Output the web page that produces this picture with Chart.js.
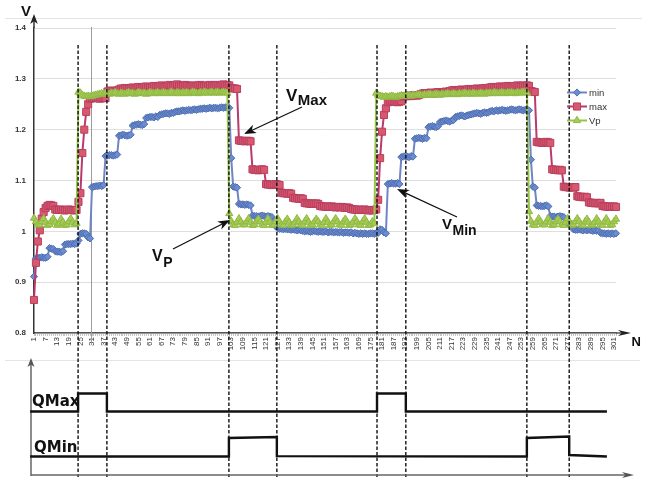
<!DOCTYPE html>
<html><head><meta charset="utf-8">
<script src="https://cdn.jsdelivr.net/npm/chart.js@4/dist/chart.umd.min.js"></script>
<style>
html,body{margin:0;padding:0;background:#fff;}
#wrap{position:relative;width:662px;height:481px;overflow:hidden;}
#c1{position:absolute;left:0;top:0;}
#c2{position:absolute;left:0;top:352px;}
</style></head><body>
<div id="wrap"><canvas id="c1" width="662" height="481" style="width:662px;height:481px"></canvas><canvas id="c2" width="662" height="129" style="width:662px;height:129px"></canvas></div>
<script>
// ---------- data ----------
const categories = Array.from({length: 302}, (_, i) => String(i + 1));
const tickLabels = [1,7,13,19,25,31,37,43,49,55,61,67,73,79,85,91,97,103,109,115,121,127,133,139,145,151,157,163,169,175,181,187,193,199,205,211,217,223,229,235,241,247,253,259,265,271,277,283,289,295,301];
const yTickLabels = ['0.8','0.9','1','1.1','1.2','1.3','1.4'];

const minV = [
0.911,0.947,0.948,0.948,0.949,0.948,0.948,0.950,0.967,0.966,
0.965,0.961,0.960,0.960,0.959,0.961,0.974,0.975,0.975,0.975,
0.976,0.975,0.976,0.982,0.995,0.996,0.996,0.995,0.988,0.986,
1.087,1.088,1.089,1.089,1.090,1.089,1.091,1.148,1.149,1.150,
1.150,1.149,1.150,1.151,1.188,1.189,1.190,1.189,1.188,1.189,
1.190,1.208,1.209,1.210,1.211,1.210,1.209,1.211,1.223,1.224,
1.225,1.225,1.224,1.226,1.225,1.229,1.230,1.231,1.232,1.232,
1.231,1.233,1.233,1.235,1.236,1.236,1.237,1.238,1.237,1.238,
1.239,1.238,1.239,1.240,1.239,1.240,1.241,1.241,1.242,1.241,
1.242,1.243,1.242,1.243,1.243,1.242,1.243,1.244,1.243,1.244,
1.244,1.243,1.144,1.088,1.087,1.086,1.054,1.053,1.053,1.052,
1.053,1.052,1.051,1.031,1.030,1.030,1.029,1.030,1.031,1.030,
1.029,1.030,1.029,1.028,1.020,1.010,1.006,1.005,1.005,1.004,
1.005,1.004,1.004,1.003,1.004,1.003,1.002,1.003,1.002,1.001,
1.000,1.001,1.000,0.999,1.000,1.001,1.000,0.999,1.000,0.999,
0.999,1.000,0.998,0.999,0.999,0.998,0.999,0.998,0.998,0.999,
0.997,0.998,0.998,0.997,0.998,0.996,0.997,0.996,0.995,0.996,
0.995,0.996,0.995,0.995,0.996,0.996,0.995,0.996,0.997,1.004,
1.003,0.998,0.996,1.093,1.094,1.095,1.094,1.094,1.095,1.093,
1.146,1.147,1.148,1.147,1.146,1.148,1.147,1.182,1.183,1.184,
1.183,1.182,1.184,1.183,1.205,1.206,1.207,1.206,1.205,1.207,
1.215,1.216,1.217,1.218,1.217,1.216,1.218,1.219,1.225,1.226,
1.227,1.228,1.227,1.226,1.228,1.229,1.230,1.231,1.232,1.233,
1.232,1.231,1.233,1.234,1.233,1.234,1.236,1.237,1.236,1.238,
1.237,1.238,1.239,1.238,1.237,1.238,1.239,1.240,1.239,1.238,
1.239,1.240,1.239,1.238,1.239,1.239,1.238,1.141,1.088,1.086,
1.051,1.050,1.050,1.049,1.050,1.051,1.049,1.030,1.029,1.029,
1.028,1.029,1.030,1.029,1.028,1.017,1.016,1.016,1.015,1.004,
1.003,1.003,1.004,1.003,1.002,1.003,1.002,1.003,1.002,1.001,
1.002,1.001,1.001,0.997,0.996,0.996,0.995,0.996,0.995,0.996,
0.995,0.996];

const maxV = [
0.865,0.938,0.980,1.002,1.025,1.038,1.046,1.050,1.052,1.051,
1.050,1.043,1.042,1.042,1.043,1.042,1.041,1.042,1.043,1.042,
1.042,1.041,1.042,1.058,1.075,1.154,1.200,1.235,1.250,1.261,
1.262,1.262,1.263,1.262,1.261,1.262,1.263,1.262,1.275,1.276,
1.277,1.276,1.275,1.277,1.279,1.281,1.280,1.282,1.281,1.280,
1.282,1.283,1.281,1.282,1.284,1.283,1.282,1.284,1.285,1.283,
1.283,1.284,1.286,1.285,1.284,1.286,1.287,1.285,1.284,1.286,
1.288,1.286,1.285,1.287,1.289,1.287,1.285,1.286,1.288,1.287,
1.286,1.285,1.287,1.286,1.285,1.287,1.288,1.286,1.285,1.287,
1.286,1.288,1.287,1.286,1.288,1.287,1.286,1.288,1.289,1.287,
1.288,1.287,1.282,1.281,1.281,1.280,1.179,1.178,1.178,1.177,
1.178,1.178,1.177,1.122,1.121,1.121,1.120,1.121,1.122,1.121,
1.093,1.092,1.092,1.091,1.092,1.093,1.092,1.091,1.076,1.075,
1.075,1.074,1.075,1.074,1.066,1.065,1.065,1.064,1.065,1.064,
1.056,1.055,1.055,1.054,1.055,1.054,1.055,1.054,1.050,1.049,
1.049,1.048,1.049,1.048,1.049,1.048,1.047,1.048,1.047,1.048,
1.047,1.046,1.047,1.046,1.044,1.043,1.043,1.042,1.043,1.042,
1.042,1.043,1.042,1.041,1.042,1.041,1.042,1.043,1.062,1.144,
1.196,1.229,1.242,1.254,1.255,1.255,1.256,1.255,1.254,1.255,
1.256,1.265,1.266,1.266,1.267,1.266,1.267,1.268,1.267,1.268,
1.270,1.271,1.272,1.271,1.272,1.273,1.272,1.271,1.273,1.274,
1.273,1.272,1.274,1.275,1.274,1.276,1.277,1.278,1.277,1.276,
1.278,1.279,1.278,1.277,1.279,1.280,1.279,1.278,1.280,1.281,
1.280,1.279,1.281,1.282,1.281,1.282,1.283,1.284,1.283,1.282,
1.284,1.285,1.284,1.283,1.285,1.286,1.285,1.284,1.285,1.286,
1.287,1.286,1.285,1.287,1.286,1.287,1.286,1.276,1.275,1.274,
1.176,1.175,1.175,1.174,1.175,1.176,1.175,1.174,1.122,1.121,
1.121,1.120,1.121,1.120,1.088,1.087,1.087,1.086,1.087,1.086,
1.087,1.069,1.068,1.068,1.067,1.068,1.067,1.057,1.056,1.056,
1.055,1.056,1.055,1.056,1.050,1.049,1.049,1.048,1.049,1.048,
1.049,1.048];

const vpV = [
1.026,1.019,1.013,1.013,1.019,1.025,1.018,1.012,1.014,1.020,
1.025,1.018,1.012,1.015,1.024,1.018,1.012,1.013,1.019,1.025,
1.018,1.013,1.016,
1.274,1.272,1.268,1.266,1.265,1.266,1.265,1.266,1.267,1.268,1.269,
1.270,1.271,1.270,1.272,1.271,1.270,1.272,1.271,1.273,1.271,
1.270,1.272,1.271,1.270,1.272,1.273,1.271,1.272,1.270,1.271,
1.273,1.272,1.271,1.272,1.270,1.271,1.273,1.272,1.271,1.272,
1.273,1.271,1.272,1.273,1.272,1.271,1.272,1.274,1.272,1.271,
1.273,1.272,1.271,1.273,1.272,1.273,1.271,1.272,1.274,1.273,
1.272,1.271,1.273,1.272,1.274,1.273,1.272,1.273,1.274,1.272,
1.273,1.274,1.272,1.273,1.274,1.273,1.272,
1.035,
1.020,1.013,1.012,1.018,1.025,
1.019,1.013,1.013,1.019,1.025,
1.018,1.012,1.013,1.019,1.024,
1.019,1.013,1.012,1.018,1.025,
1.018,1.012,1.013,1.019,1.025,
1.019,1.013,1.012,1.019,1.024,
1.018,1.012,1.013,1.018,1.025,
1.019,1.013,1.012,1.019,1.025,
1.018,1.012,1.013,1.019,1.024,
1.019,1.013,1.012,1.018,1.025,
1.018,1.012,1.013,1.019,1.025,
1.019,1.013,1.012,1.019,1.024,
1.018,1.012,1.013,1.018,1.025,
1.019,1.013,1.012,1.019,1.025,
1.018,1.012,1.013,1.019,1.016,
1.272,1.268,1.266,1.265,1.264,1.265,1.264,1.265,1.266,1.265,
1.264,1.265,1.266,1.267,1.266,1.267,1.268,1.267,1.266,1.268,
1.267,1.268,1.269,1.268,1.267,1.269,1.268,1.269,1.270,1.268,
1.269,1.270,1.269,1.268,1.270,1.269,1.270,1.271,1.269,1.270,
1.271,1.270,1.269,1.271,1.270,1.271,1.272,1.270,1.271,1.270,
1.272,1.271,1.270,1.271,1.272,1.271,1.270,1.272,1.271,1.272,
1.271,1.273,1.272,1.271,1.272,1.273,1.272,1.271,1.273,1.272,
1.273,1.272,1.271,1.273,1.272,1.273,1.274,1.273,1.272,
1.039,
1.020,1.013,1.012,1.018,1.025,
1.019,1.013,1.013,1.019,1.025,
1.018,1.012,1.013,1.019,1.024,
1.019,1.013,1.012,1.018,1.025,
1.018,1.012,1.013,1.019,1.025,
1.019,1.013,1.012,1.019,1.024,
1.018,1.012,1.013,1.018,1.025,
1.019,1.013,1.012,1.019,1.025,
1.018,1.012,1.013,1.019,1.024];

// switching instants (sample numbers) marked by dashed lines
const switchN = [23.8, 38.7, 101.8, 126.6, 178.4, 193.3, 255.9, 277.8];
const markN = 30.5;

// logic signals of the lower panel: sample number / level (0 = off, 1 = on)
const qMaxN     = [-1, 23.8, 23.8, 38.7, 38.7, 178.4, 178.4, 193.3, 193.3, 297.3];
const qMaxLevel = [ 0, 0,    1,    1,    0,    0,     1,     1,     0,     0];
const qMinN     = [-1, 101.8, 101.8, 126.6, 126.6, 255.9, 255.9, 277.8, 277.8, 297.3];
const qMinLevel = [ 0, 0,     1,     1.05,  0.02,  0,     1,     1.08,  0.08,  0];

// ---------- helpers ----------
const tickSet = new Set(tickLabels.map(String));
function marker(ctx, style, r, x, y) {
  ctx.beginPath();
  if (style === 'rect') { const s = r * Math.SQRT1_2; ctx.rect(x - s, y - s, 2 * s, 2 * s); }
  else if (style === 'rectRot') { ctx.moveTo(x, y - r); ctx.lineTo(x + r, y); ctx.lineTo(x, y + r); ctx.lineTo(x - r, y); ctx.closePath(); }
  else { ctx.moveTo(x, y - r); ctx.lineTo(x + r * 0.866, y + r / 2); ctx.lineTo(x - r * 0.866, y + r / 2); ctx.closePath(); }
  ctx.fill(); ctx.stroke();
}
function head(ctx, x, y, ang, len, half) {
  ctx.save(); ctx.translate(x, y); ctx.rotate(ang);
  ctx.beginPath(); ctx.moveTo(0, 0); ctx.lineTo(-len, -half); ctx.lineTo(-len * 0.72, 0); ctx.lineTo(-len, half); ctx.closePath(); ctx.fill();
  ctx.restore();
}
function arrow(ctx, x1, y1, x2, y2) {
  const ang = Math.atan2(y2 - y1, x2 - x1);
  ctx.beginPath(); ctx.moveTo(x1, y1); ctx.lineTo(x2 - Math.cos(ang) * 6, y2 - Math.sin(ang) * 6); ctx.stroke();
  head(ctx, x2, y2, ang, 12, 4.5);
}
function subLabel(ctx, x, y, main, sub, s1, s2, dy) {
  ctx.textAlign = 'left'; ctx.textBaseline = 'alphabetic';
  ctx.font = 'bold ' + s1 + 'px "Liberation Sans"';
  ctx.fillText(main, x, y);
  const w = ctx.measureText(main).width;
  ctx.font = 'bold ' + s2 + 'px "Liberation Sans"';
  ctx.fillText(sub, x + w + 0.5, y + dy);
}

const styles = {
  min: {line: '#6f86c2', fill: '#6a8cd0', border: '#4f6db0', pt: 'rectRot', r: 3.6},
  max: {line: '#b93a6c', fill: '#d8596d', border: '#b93f60', pt: 'rect', r: 5},
  vp:  {line: '#98c445', fill: '#a6cc55', border: '#90b944', pt: 'triangle', r: 4.2}
};
function mkDs(label, data, st, order) {
  return {label, data, order, borderColor: st.line, backgroundColor: st.fill,
    pointBackgroundColor: st.fill, pointBorderColor: st.border, pointBorderWidth: 1,
    pointStyle: st.pt, pointRadius: st.r, pointHoverRadius: st.r, borderWidth: 2, tension: 0};
}

const overlayTop = {
  id: 'overlayTop',
  beforeDatasetsDraw(chart) {
    const {ctx, scales: {x}} = chart;
    ctx.save();
    ctx.strokeStyle = '#e4e4e4'; ctx.lineWidth = 1;
    ctx.beginPath(); ctx.moveTo(5, 18.5); ctx.lineTo(642, 18.5); ctx.stroke();
    ctx.beginPath(); ctx.moveTo(5, 360.5); ctx.lineTo(640, 360.5); ctx.stroke();
    const mx = Math.round(x.getPixelForValue(markN - 1)) + 0.5;
    ctx.strokeStyle = '#9c9c9c';
    ctx.beginPath(); ctx.moveTo(mx, 27); ctx.lineTo(mx, 345); ctx.stroke();
    ctx.restore();
  },
  afterDraw(chart) {
    const {ctx, chartArea: a, scales: {x}} = chart;
    ctx.save();
    // dashed switching lines
    ctx.strokeStyle = '#111'; ctx.lineWidth = 1.4; ctx.setLineDash([3.5, 2]);
    switchN.forEach(n => {
      const px = x.getPixelForValue(n - 1);
      ctx.beginPath(); ctx.moveTo(px, 45); ctx.lineTo(px, 477); ctx.stroke();
    });
    ctx.setLineDash([]);
    // axis arrows
    ctx.fillStyle = '#222'; ctx.strokeStyle = '#333'; ctx.lineWidth = 1.5;
    ctx.beginPath(); ctx.moveTo(a.left, a.top); ctx.lineTo(a.left, 20); ctx.stroke();
    head(ctx, a.left, 14, -Math.PI / 2, 10, 3.8);
    ctx.strokeStyle = '#555';
    ctx.beginPath(); ctx.moveTo(a.right, a.bottom); ctx.lineTo(622, a.bottom); ctx.stroke();
    head(ctx, 631, a.bottom, 0, 13, 3);
    // axis titles
    ctx.fillStyle = '#111'; ctx.textBaseline = 'alphabetic'; ctx.textAlign = 'left';
    ctx.font = 'bold 15px "Liberation Sans"'; ctx.fillText('V', 21, 15.5);
    ctx.font = 'bold 13px "Liberation Sans"'; ctx.fillText('N', 631.5, 345.5);
    // annotations
    ctx.fillStyle = '#111'; ctx.strokeStyle = '#111'; ctx.lineWidth = 1.3;
    subLabel(ctx, 286, 100.5, 'V', 'Max', 17, 15, 4.5);
    arrow(ctx, 302, 107, 244, 134);
    subLabel(ctx, 152, 260.5, 'V', 'P', 16, 14, 6.5);
    arrow(ctx, 173, 249, 230, 220);
    subLabel(ctx, 442, 228.5, 'V', 'Min', 15, 14, 6);
    arrow(ctx, 457, 217, 397, 189);
    // legend
    const items = [['min', styles.min, 92.5], ['max', styles.max, 106.5], ['Vp', styles.vp, 120.5]];
    items.forEach(([t, st, y]) => {
      ctx.strokeStyle = st.line; ctx.lineWidth = 2;
      ctx.beginPath(); ctx.moveTo(567, y); ctx.lineTo(587, y); ctx.stroke();
      ctx.fillStyle = st.fill; ctx.strokeStyle = st.border; ctx.lineWidth = 1;
      marker(ctx, st.pt, st.r, 577, y);
      ctx.fillStyle = '#333'; ctx.font = '9.5px "Liberation Sans"'; ctx.textBaseline = 'middle';
      ctx.fillText(t, 589, y + 0.5);
    });
    ctx.restore();
  }
};

new Chart(document.getElementById('c1'), {
  type: 'line',
  data: {labels: categories, datasets: [
    mkDs('min', minV, styles.min, 2),
    mkDs('max', maxV, styles.max, 1),
    mkDs('Vp', vpV, styles.vp, 0)
  ]},
  options: {
    responsive: false, animation: false, events: [],
    layout: {padding: {left: 0, right: 46, top: 28, bottom: 0}},
    plugins: {legend: {display: false}, tooltip: {enabled: false}},
    scales: {
      x: {type: 'category', offset: false,
        grid: {display: true, drawOnChartArea: false, drawTicks: true, tickLength: 3, color: '#c4c4c4', lineWidth: 1},
        border: {display: true, color: '#555', width: 1.5},
        ticks: {autoSkip: false, minRotation: 90, maxRotation: 90, padding: 1, color: '#333',
          font: {family: 'Liberation Sans', size: 8},
          callback: (v, i) => tickSet.has(categories[i]) ? categories[i] : ''},
        afterFit: s => { s.height = 148; }},
      y: {min: 0.8, max: 1.4,
        grid: {color: '#dedede', lineWidth: 1, drawTicks: false},
        border: {display: true, color: '#333', width: 1.5},
        ticks: {stepSize: 0.1, padding: 8, color: '#333', font: {family: 'Liberation Sans', size: 8, weight: 'bold'},
          callback: (v, i) => yTickLabels[i]},
        afterFit: s => { s.width = 34; }}
    }
  },
  plugins: [overlayTop]
});

const overlayBottom = {
  id: 'overlayBottom',
  beforeDatasetsDraw(chart) {
    const {ctx, chartArea: a} = chart;
    ctx.save();
    ctx.strokeStyle = '#666'; ctx.fillStyle = '#555'; ctx.lineWidth = 1.5;
    const ax = a.left - 3;
    ctx.beginPath(); ctx.moveTo(ax, a.bottom + 1); ctx.lineTo(ax, a.top + 6); ctx.stroke();
    head(ctx, ax, a.top, -Math.PI / 2, 9, 3.5);
    ctx.beginPath(); ctx.moveTo(ax, a.bottom); ctx.lineTo(626, a.bottom); ctx.stroke();
    head(ctx, 634, a.bottom, 0, 12, 3);
    ctx.fillStyle = '#111'; ctx.textAlign = 'left'; ctx.textBaseline = 'middle';
    ctx.font = 'bold 15px "DejaVu Sans"';
    ctx.fillText('QMax', 32, 50.5);
    ctx.fillText('QMin', 34, 96);
    ctx.restore();
  }
};

new Chart(document.getElementById('c2'), {
  type: 'line',
  data: {datasets: [
    {label: 'QMax', data: qMaxN.map((n, i) => ({x: n, y: qMaxLevel[i]})), yAxisID: 'yMax',
      borderColor: '#111', borderWidth: 2.4, pointRadius: 0, tension: 0, clip: false},
    {label: 'QMin', data: qMinN.map((n, i) => ({x: n, y: qMinLevel[i]})), yAxisID: 'yMin',
      borderColor: '#111', borderWidth: 2.4, pointRadius: 0, tension: 0, clip: false}
  ]},
  options: {
    responsive: false, animation: false, events: [],
    layout: {padding: {left: 34, right: 46, top: 6, bottom: 6}},
    plugins: {legend: {display: false}, tooltip: {enabled: false}},
    scales: {
      x: {type: 'linear', min: 1, max: 302, display: false},
      yMax: {type: 'linear', min: -3.528, max: 2.972, display: false},
      yMin: {type: 'linear', min: -1, max: 5.324, display: false}
    }
  },
  plugins: [overlayBottom]
});

if (minV.length !== 302 || maxV.length !== 302 || vpV.length !== 302) {
  throw new Error('length mismatch ' + minV.length + ' ' + maxV.length + ' ' + vpV.length);
}
</script>
</body></html>
